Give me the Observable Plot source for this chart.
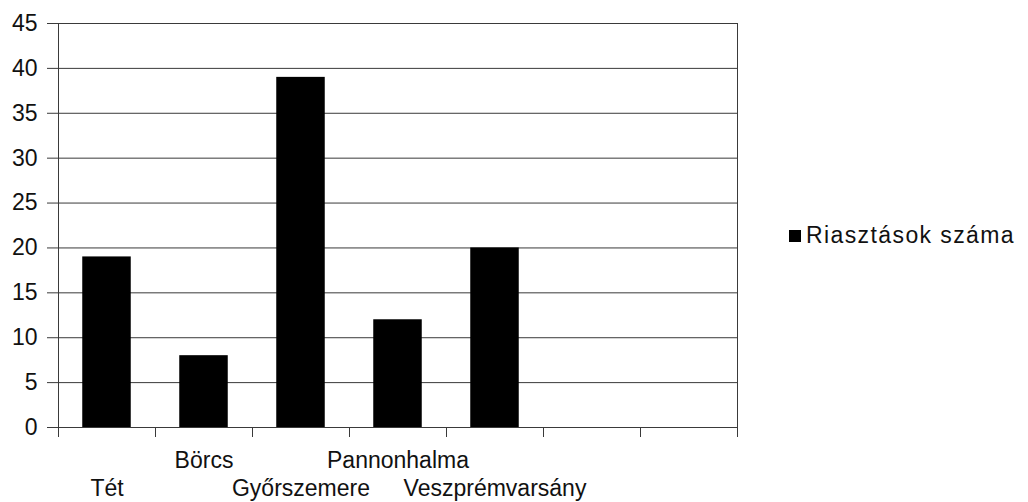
<!DOCTYPE html>
<html>
<head>
<meta charset="utf-8">
<script src="https://cdn.jsdelivr.net/npm/d3@7"></script>
<script src="https://cdn.jsdelivr.net/npm/@observablehq/plot@0.6"></script>
<style>
  html, body { margin: 0; padding: 0; background: #fff; }
  #wrap { position: relative; width: 1028px; height: 502px; font-family: "Liberation Sans", Arial, sans-serif; }
  #legend { position: absolute; left: 789px; top: 222px; display: flex; align-items: center; font-size: 23px; letter-spacing: 1.4px; color: #111; }
  #legend .sw { width: 12px; height: 12px; background: #000; margin-right: 5px; }
</style>
</head>
<body>
<div id="wrap"><div id="legend"><span class="sw"></span><span id="legendText"></span></div></div>
<script>
const categories = ["Tét", "Börcs", "Győrszemere", "Pannonhalma", "Veszprémvarsány"];
const values = [19, 8, 39, 12, 20];
const slotCount = 7;
const yTicks = [0, 5, 10, 15, 20, 25, 30, 35, 40, 45];
const seriesName = "Riasztások száma";

const data = categories.map((c, i) => ({i, category: c, value: values[i]}));

const chart = Plot.plot({
  width: 1028,
  height: 502,
  marginLeft: 58,
  marginRight: 291,
  marginTop: 23,
  marginBottom: 75,
  style: {fontFamily: "'Liberation Sans', Arial, sans-serif", color: "#111", background: "#fff", overflow: "visible"},
  x: {domain: [0, slotCount], axis: null},
  y: {domain: [0, 45], axis: null},
  marks: [
    Plot.ruleY(yTicks, {stroke: "#3a3a3a", strokeWidth: 1}),
    Plot.axisY({ticks: yTicks, tickSize: 11, tickPadding: 10, fontSize: 23, label: null, stroke: "#3a3a3a"}),
    Plot.ruleX([0, slotCount], {y1: 0, y2: 45, stroke: "#3a3a3a"}),
    Plot.rectY(data, {x1: d => d.i + 0.25, x2: d => d.i + 0.75, y: "value", fill: "#000"}),
    Plot.axisX(d3.range(slotCount + 1), {tickSize: 10, tickFormat: () => "", label: null, stroke: "#3a3a3a"}),
    Plot.text(data.filter(d => d.i % 2 === 1), {x: d => d.i + 0.5, frameAnchor: "bottom", dy: 40, text: "category", fontSize: 23, letterSpacing: 1.1, lineAnchor: "bottom", fill: "#111"}),
    Plot.text(data.filter(d => d.i % 2 === 0), {x: d => d.i + 0.5, frameAnchor: "bottom", dy: 68, text: "category", fontSize: 23, letterSpacing: 1.1, lineAnchor: "bottom", fill: "#111"})
  ]
});
chart.style.position = "absolute";
chart.style.left = "0";
chart.style.top = "0";
document.getElementById("wrap").prepend(chart);
document.getElementById("legendText").textContent = seriesName;
</script>
</body>
</html>
